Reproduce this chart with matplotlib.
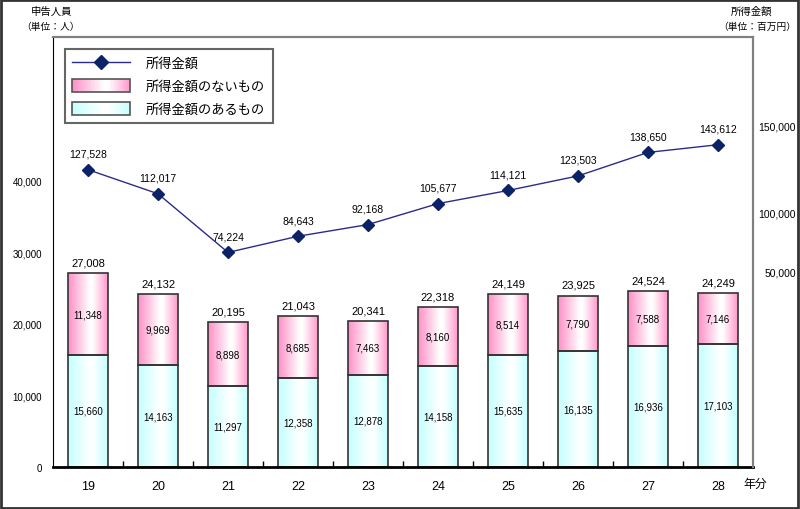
import matplotlib
matplotlib.use('Agg')
import matplotlib.pyplot as plt
import numpy as np
from matplotlib.colors import LinearSegmentedColormap
from matplotlib.legend_handler import HandlerBase
from matplotlib.lines import Line2D
from matplotlib.patches import Rectangle

plt.rcParams['font.family'] = ['Liberation Sans', 'Noto Sans CJK JP', 'DejaVu Sans']

# データ
years = ['19', '20', '21', '22', '23', '24', '25', '26', '27', '28']
with_income = [15660, 14163, 11297, 12358, 12878, 14158, 15635, 16135, 16936, 17103]
no_income = [11348, 9969, 8898, 8685, 7463, 8160, 8514, 7790, 7588, 7146]
income_amount = [127528, 112017, 74224, 84643, 92168, 105677, 114121, 123503, 138650, 143612]

left_ticks = [0, 10000, 20000, 30000, 40000]
right_tick_labels = ['50,000', '100,000', '150,000']
# 右軸ラベルは元図の位置に合わせる
right_tick_pos = [62000, 100200, 156300]

pink_cmap = LinearSegmentedColormap.from_list(
    'pink', [(0, '#ff8fc6'), (0.55, '#ffffff'), (0.62, '#ffffff'), (1, '#ff99cc')])
cyan_cmap = LinearSegmentedColormap.from_list(
    'cyan', [(0, '#c4ffff'), (0.55, '#ffffff'), (0.62, '#ffffff'), (1, '#c4ffff')])


class GradientHandler(HandlerBase):
    def __init__(self, cmap):
        super().__init__()
        self.cmap = cmap

    def create_artists(self, legend, orig_handle, xdescent, ydescent, width, height, fontsize, trans):
        n = 40
        arts = []
        for i in range(n):
            arts.append(Rectangle((-xdescent + width * i / n, -ydescent), width / n, height,
                                  facecolor=self.cmap((i + 0.5) / n), edgecolor='none', transform=trans))
        arts.append(Rectangle((-xdescent, -ydescent), width, height, facecolor='none',
                              edgecolor='#555555', lw=1.2, transform=trans))
        return arts


def fill_gradient(ax, bars, cmap):
    grad = np.linspace(0, 1, 200).reshape(1, -1)
    for b in bars:
        x0, y0 = b.get_x(), b.get_y()
        im = ax.imshow(grad, cmap=cmap, aspect='auto', zorder=1.5,
                       extent=[x0, x0 + b.get_width(), y0, y0 + b.get_height()])
        im.set_clip_path(b)


fig = plt.figure(figsize=(8, 5.1), dpi=100)
ax = fig.add_axes([0.06625, 0.08235, 0.875, 0.84314])
x = np.arange(len(years))
width = 0.57

bars_low = ax.bar(x, with_income, width, facecolor='none', edgecolor='#333333', lw=1.2, zorder=2)
bars_high = ax.bar(x, no_income, width, bottom=with_income, facecolor='none',
                   edgecolor='#333333', lw=1.2, zorder=2)
fill_gradient(ax, bars_low, cyan_cmap)
fill_gradient(ax, bars_high, pink_cmap)

totals = [a + b for a, b in zip(with_income, no_income)]
for i in range(len(years)):
    ax.text(x[i], with_income[i] / 2, f'{with_income[i]:,}', ha='center', va='center', fontsize=7, zorder=3)
    ax.text(x[i], with_income[i] + no_income[i] / 2, f'{no_income[i]:,}', ha='center', va='center',
            fontsize=7, zorder=3)
    ax.annotate(f'{totals[i]:,}', (x[i], totals[i]), xytext=(0, 4), textcoords='offset points',
                ha='center', va='bottom', fontsize=8)

ax.set_xlim(-0.5, len(years) - 0.5)
ax.set_ylim(0, 60000)
ax.set_yticks(left_ticks)
ax.set_yticklabels([f'{v:,}' for v in left_ticks], fontsize=7)
ax.tick_params(axis='y', length=0, pad=8)
ax.set_xticks(x)
ax.set_xticklabels(years, fontsize=9)
ax.set_xticks(x[:-1] + 0.5, minor=True)
ax.tick_params(axis='x', which='major', length=0, pad=9)
ax.tick_params(axis='x', which='minor', direction='in', length=4, width=1)
ax.spines['left'].set_color('black')
ax.spines['bottom'].set_linewidth(2)
for s in ['top', 'right']:
    ax.spines[s].set_color('#808080')
    ax.spines[s].set_linewidth(1.5)

ax2 = ax.twinx()
line, = ax2.plot(x, income_amount, color='#2b2b8c', lw=1, marker='D', markersize=6.5,
                 markerfacecolor='#0c2266', markeredgecolor='#0c2266', zorder=4)
for i in range(len(years)):
    ax2.annotate(f'{income_amount[i]:,}', (x[i], income_amount[i]), xytext=(0, 8),
                 textcoords='offset points', ha='center', va='bottom', fontsize=7.5)
ax2.set_ylim(-64000, 213000)
ax2.set_yticks(right_tick_pos)
ax2.set_yticklabels(right_tick_labels, fontsize=7.5, ha='right')
ax2.tick_params(axis='y', length=0, pad=31)
for s in ['top', 'right']:
    ax2.spines[s].set_color('#808080')
    ax2.spines[s].set_linewidth(1.5)
ax2.spines['left'].set_visible(False)
ax2.spines['bottom'].set_visible(False)

legend_line = Line2D([], [], color='#2b2b8c', lw=1, marker='D', markersize=7,
                     markerfacecolor='#0c2266', markeredgecolor='#0c2266')
leg = ax2.legend([legend_line, bars_high, bars_low],
                 ['所得金額', '所得金額のないもの', '所得金額のあるもの'],
                 handler_map={bars_high: GradientHandler(pink_cmap), bars_low: GradientHandler(cyan_cmap)},
                 loc='upper left', bbox_to_anchor=(0.017, 0.972), borderaxespad=0,
                 fontsize=9.5, handlelength=4.4, handleheight=1.1, handletextpad=1.2,
                 labelspacing=0.68, borderpad=0.55, fancybox=False, framealpha=1)
leg.get_frame().set_edgecolor('#666666')
leg.get_frame().set_linewidth(1.5)

fig.text(52 / 800, 1 - 12 / 510, '申告人員', ha='center', va='center', fontsize=7.5)
fig.text(51 / 800, 1 - 27 / 510, '（単位：人）', ha='center', va='center', fontsize=7)
fig.text(752 / 800, 1 - 12 / 510, '所得金額', ha='center', va='center', fontsize=7.5)
fig.text(757 / 800, 1 - 27 / 510, '（単位：百万円）', ha='center', va='center', fontsize=7)
fig.text(755 / 800, 1 - 485 / 510, '年分', ha='center', va='center', fontsize=8.5)

fig.patches.append(Rectangle((0.001, 0.002), 0.997, 0.996, transform=fig.transFigure,
                             fill=False, edgecolor='#333333', lw=2))

fig.savefig('out.png', dpi=100)
